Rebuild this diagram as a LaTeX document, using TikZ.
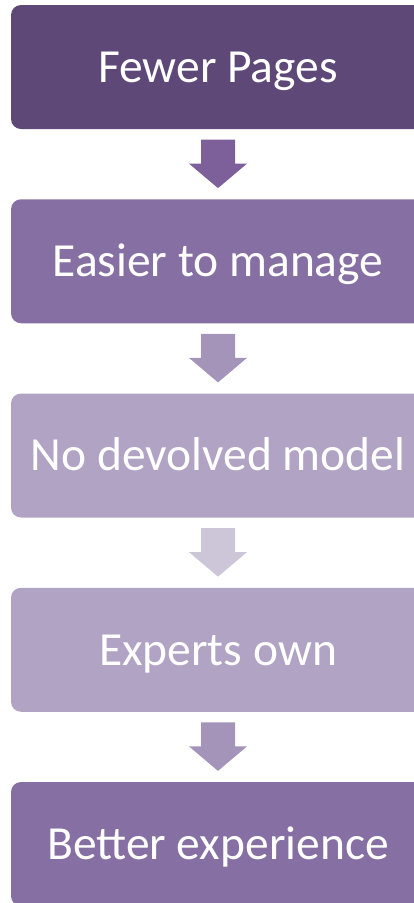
\documentclass[tikz,border=0pt]{standalone}
\usepackage{fontspec}
\setmainfont{Carlito}
\usetikzlibrary{calc}

\definecolor{darkplum}{HTML}{5E4878}
\definecolor{midplum}{HTML}{8670A3}
\definecolor{paleplum}{HTML}{B1A3C3}
\definecolor{arrowdark}{HTML}{7D5F99}
\definecolor{arrowmid}{HTML}{A594BA}
\definecolor{arrowpale}{HTML}{CCC6D8}

\tikzset{
  stagebox/.style={rectangle, rounded corners=10pt, minimum width=414pt,
    minimum height=124pt, inner sep=0pt, text=white,
    font=\fontsize{47.5pt}{52pt}\selectfont, text height=30.6pt, text depth=0pt},
}

% block arrow half way between two boxes
\newcommand{\stagearrow}[3]{%
  \fill[#3] ($(#1.south)!0.5!(#2.north)$) ++(-17,-24.5) -- ++(34,0)
    -- ++(0,24) -- ++(12,0) -- ++(-29,24.5) -- ++(-29,-24.5) -- ++(12,0) -- cycle;}

\begin{document}
\begin{tikzpicture}[x=1pt,y=-1pt]
  \clip (0,0) rectangle (414,903);
  \useasboundingbox (0,0) rectangle (414,903);

  \node[stagebox, fill=darkplum] (pages) at (218, 67) {Fewer Pages};
  \node[stagebox, fill=midplum] (manage) at (218, 261.25) {Easier to manage};
  \node[stagebox, fill=paleplum] (model) at (218, 455.5) {No devolved model};
  \node[stagebox, fill=paleplum] (experts) at (218, 649.75) {Experts own};
  \node[stagebox, fill=midplum] (better) at (218, 844) {Better experience};

  \stagearrow{pages}{manage}{arrowdark}
  \stagearrow{manage}{model}{arrowmid}
  \stagearrow{model}{experts}{arrowpale}
  \stagearrow{experts}{better}{arrowmid}

\end{tikzpicture}
\end{document}
